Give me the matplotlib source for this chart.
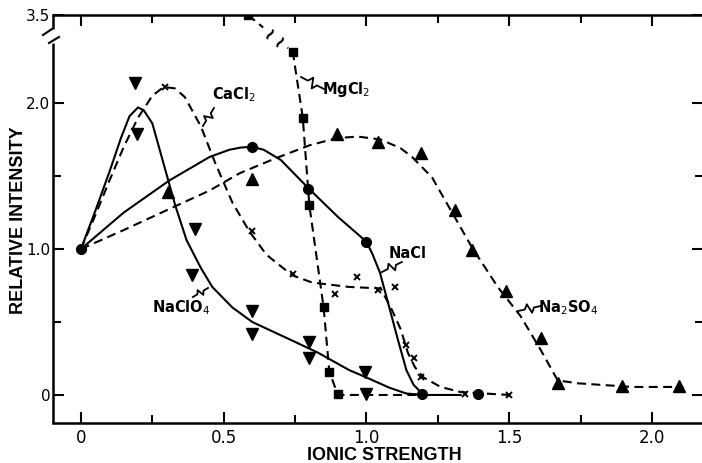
import numpy as np
import matplotlib
matplotlib.use("Agg")
import matplotlib.pyplot as plt
from matplotlib.lines import Line2D
from matplotlib.transforms import IdentityTransform

# ---------------- data ----------------
# measured points (ionic strength, relative intensity)
nacl_x = [0.0, 0.60, 0.795, 1.0, 1.195, 1.39]
nacl_y = [1.0, 1.70, 1.41, 1.045, 0.01, 0.01]

naclo4_x = [0.19, 0.196, 0.40, 0.39, 0.60, 0.60, 0.80, 0.80, 0.995, 1.0]
naclo4_y = [2.14, 1.79, 1.14, 0.82, 0.575, 0.42, 0.36, 0.25, 0.16, 0.01]

cacl2_x = [0.294, 0.60, 0.743, 0.89, 0.967, 1.04, 1.10, 1.14, 1.167, 1.19, 1.345, 1.50]
cacl2_y = [2.11, 1.12, 0.83, 0.69, 0.81, 0.72, 0.74, 0.34, 0.25, 0.12, 0.01, 0.0]

mgcl2_x = [0.585, 0.742, 0.777, 0.80, 0.85, 0.87, 0.90]
mgcl2_y = [3.50, 2.35, 1.90, 1.30, 0.60, 0.16, 0.01]

na2so4_x = [0.305, 0.60, 0.897, 1.04, 1.19, 1.31, 1.37, 1.49, 1.61, 1.67, 1.895, 2.095]
na2so4_y = [1.39, 1.48, 1.79, 1.73, 1.66, 1.27, 0.99, 0.71, 0.39, 0.08, 0.06, 0.06]

# hand-drawn trend curves through the data
nacl_cx = [0.0, 0.15, 0.31, 0.45, 0.52, 0.56, 0.60, 0.64, 0.70, 0.80, 0.90, 1.0,
           1.02, 1.047, 1.08, 1.11, 1.14, 1.165, 1.20, 1.33]
nacl_cy = [1.0, 1.25, 1.47, 1.63, 1.68, 1.695, 1.70, 1.68, 1.61, 1.41, 1.22, 1.05,
           0.97, 0.84, 0.60, 0.38, 0.17, 0.07, 0.0, 0.0]

naclo4_cx = [0.0, 0.05, 0.10, 0.14, 0.17, 0.20, 0.22, 0.25, 0.29, 0.33, 0.37, 0.42,
             0.46, 0.53, 0.60, 0.71, 0.83, 0.94, 1.0, 1.08, 1.14, 1.20]
naclo4_cy = [1.0, 1.26, 1.53, 1.76, 1.91, 1.97, 1.95, 1.86, 1.58, 1.30, 1.06, 0.87,
             0.74, 0.60, 0.50, 0.40, 0.29, 0.17, 0.12, 0.05, 0.01, 0.0]

cacl2_cx = [0.0, 0.05, 0.10, 0.15, 0.20, 0.25, 0.29, 0.33, 0.364, 0.42, 0.47, 0.53,
            0.59, 0.65, 0.74, 0.81, 0.94, 1.05, 1.09, 1.12, 1.145, 1.17, 1.20, 1.26,
            1.33, 1.50]
cacl2_cy = [1.0, 1.23, 1.47, 1.70, 1.90, 2.05, 2.11, 2.10, 2.04, 1.84, 1.59, 1.32,
            1.12, 0.96, 0.82, 0.77, 0.74, 0.73, 0.58, 0.45, 0.29, 0.19, 0.12, 0.055,
            0.02, 0.0]

mgcl2_cx = [0.585, 0.742, 0.777, 0.80, 0.85, 0.87, 0.90, 1.20]
mgcl2_cy = [3.50, 2.35, 1.90, 1.30, 0.60, 0.16, 0.0, 0.0]

na2so4_cx = [0.0, 0.15, 0.305, 0.45, 0.557, 0.68, 0.80, 0.897, 0.97, 1.05, 1.12,
             1.16, 1.23, 1.30, 1.37, 1.46, 1.54, 1.61, 1.67, 1.74, 1.93, 2.11]
na2so4_cy = [1.0, 1.13, 1.27, 1.40, 1.52, 1.62, 1.71, 1.76, 1.77, 1.75, 1.69,
             1.63, 1.49, 1.25, 1.01, 0.74, 0.54, 0.31, 0.10, 0.08, 0.055, 0.055]

x_ticks = [0, 0.5, 1.0, 1.5, 2.0]
x_tick_labels = ["0", "0.5", "1.0", "1.5", "2.0"]
x_minor = [0.25, 0.75, 1.25, 1.75]
y_ticks = [0, 1.0, 2.0, 3.5]
y_tick_labels = ["0", "1.0", "2.0", "3.5"]
y_minor = [0.5, 1.5]

LABEL_FONT = "Liberation Sans"

# ---------------- broken y scale ----------------
BREAK = 2.45
SQUEEZE = 0.1457


def fwd(y):
    y = np.asarray(y, dtype=float)
    return np.where(y <= BREAK, y, BREAK + (y - BREAK) * SQUEEZE)


def inv(u):
    u = np.asarray(u, dtype=float)
    return np.where(u <= BREAK, u, BREAK + (u - BREAK) / SQUEEZE)


fig = plt.figure(figsize=(7.02, 4.63), dpi=100)
ax = fig.add_axes([53 / 702, 40 / 463, 650 / 702, 408 / 463])
ax.set_yscale("function", functions=(fwd, inv))
ax.set_xlim(-0.098, 2.179)
ax.set_ylim(-0.192, 3.5)

LW = 1.5
DASH = (0, (4.3, 2.6))

ax.plot(nacl_cx, nacl_cy, color="black", lw=LW, zorder=3)
ax.plot(naclo4_cx, naclo4_cy, color="black", lw=LW, zorder=3)
ax.plot(cacl2_cx, cacl2_cy, color="black", lw=LW, ls=DASH, zorder=3)
ax.plot(mgcl2_cx, mgcl2_cy, color="black", lw=LW, ls=DASH, zorder=3)
ax.plot(na2so4_cx, na2so4_cy, color="black", lw=LW, ls=DASH, zorder=3)

ax.plot(nacl_x, nacl_y, "o", color="black", ms=7, ls="none", zorder=4)
ax.plot(naclo4_x, naclo4_y, "v", color="black", ms=8, ls="none", zorder=4)
ax.plot(cacl2_x, cacl2_y, "x", color="black", ms=5, mew=1.4, ls="none", zorder=4)
ax.plot(mgcl2_x, mgcl2_y, "s", color="black", ms=6.3, ls="none", zorder=4)
ax.plot(na2so4_x, na2so4_y, "^", color="black", ms=8, ls="none", zorder=4)

# ---------------- axes frame ----------------
for side in ("left", "right"):
    ax.spines[side].set_visible(False)
for side in ("top", "bottom"):
    ax.spines[side].set_linewidth(1.8)

lo_break = (423 - 43) / 408
hi_break = (423 - 29) / 408
spine_kw = dict(transform=ax.transAxes, color="black", lw=1.8, clip_on=False,
                solid_capstyle="butt")
ax.plot([0, 0], [0, lo_break], **spine_kw)
ax.plot([0, 0], [hi_break, 1.0], **spine_kw)
ax.plot([-4 / 650, 6 / 650], [lo_break, lo_break + 6 / 408], transform=ax.transAxes,
        color="black", lw=1.5, clip_on=False)
ax.plot([-10 / 650, -1 / 650], [hi_break - 6 / 408, hi_break], transform=ax.transAxes,
        color="black", lw=1.5, clip_on=False)

ax.set_xticks(x_ticks)
ax.set_xticklabels(x_tick_labels)
ax.set_xticks(x_minor, minor=True)
ax.set_yticks(y_ticks)
ax.set_yticklabels(y_tick_labels)
ax.set_yticks(y_minor, minor=True)
ax.tick_params(which="both", direction="in", top=True, right=True,
               labeltop=False, labelright=False, width=1.5)
ax.tick_params(which="major", length=8)
ax.tick_params(which="minor", length=5.5)
ax.tick_params(axis="x", pad=4, labelsize=12)
ax.tick_params(axis="y", pad=2, labelsize=11)

fig.text(384 / 702, 3 / 463, "IONIC STRENGTH", ha="center", va="baseline",
         family=LABEL_FONT, weight="bold", fontsize=13)
fig.text(23 / 702, (463 - 220) / 463, "RELATIVE INTENSITY", rotation=90,
         rotation_mode="anchor", ha="center", va="baseline",
         family=LABEL_FONT, weight="bold", fontsize=13)

# ---------------- series labels with wavy leaders ----------------
series_labels = [
    ("CaCl$_2$", (0.536, 2.06), (0.466, 1.966), (0.427, 1.842)),
    ("MgCl$_2$", (0.93, 2.09), (0.851, 2.096), (0.771, 2.178)),
    ("NaCl", (1.145, 0.966), (1.124, 0.911), (1.054, 0.842)),
    ("NaClO$_4$", (0.35, 0.596), (0.392, 0.671), (0.445, 0.733)),
    ("Na$_2$SO$_4$", (1.706, 0.60), (1.611, 0.61), (1.531, 0.575)),
]


def squiggle(p0, p1):
    a = ax.transData.transform(p0)
    b = ax.transData.transform(p1)
    d = b - a
    length = np.hypot(*d)
    n = np.array([-d[1], d[0]]) / length
    t = np.array([0, 0.3, 0.43, 0.57, 0.7, 1.0])
    off = np.array([0, 0, 0.2, -0.2, 0, 0]) * length
    pts = a[None, :] + t[:, None] * d[None, :] + off[:, None] * n[None, :]
    fig.add_artist(Line2D(pts[:, 0], pts[:, 1], transform=IdentityTransform(),
                          color="black", lw=1.3))


for text, pos, start, end in series_labels:
    ax.text(pos[0], pos[1], text, ha="center", va="center", fontsize=10.5,
            weight="bold")
    squiggle(start, end)

# break marks on the MgCl2 segment above the axis break
a = ax.transData.transform((mgcl2_x[0], mgcl2_y[0]))
b = ax.transData.transform((mgcl2_x[1], mgcl2_y[1]))
seg = b - a
ang = np.degrees(np.arctan2(seg[1], seg[0]))
for frac in (0.5, 0.72):
    p = a + frac * seg
    fig.text(p[0] / 702, p[1] / 463, "~", ha="center", va="center", fontsize=13,
             rotation=ang + 90, weight="bold",
             bbox=dict(facecolor="white", edgecolor="none", pad=0.2))

fig.savefig("out.png", dpi=100)
